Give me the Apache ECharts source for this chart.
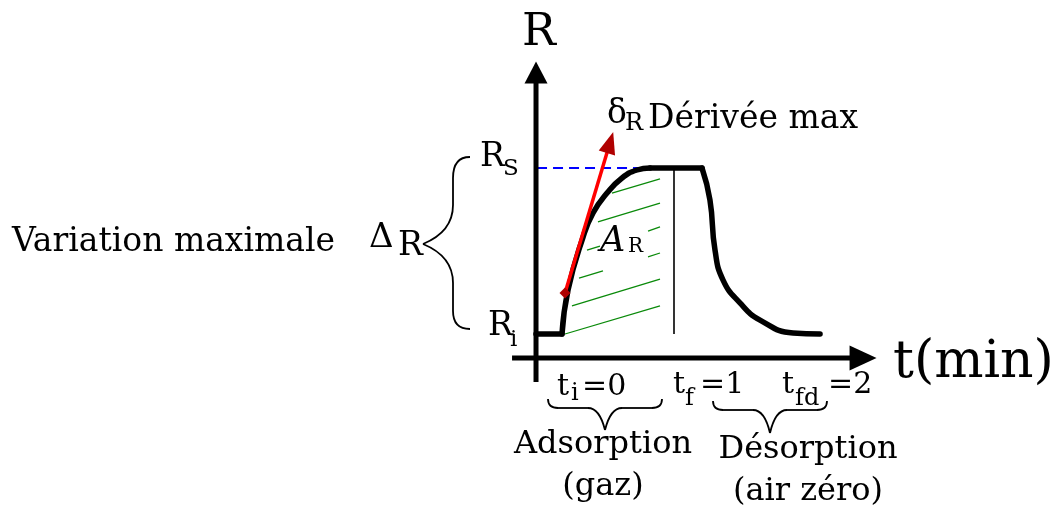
<!DOCTYPE html>
<html><head><meta charset="utf-8">
<script src="https://cdn.jsdelivr.net/npm/echarts@6/dist/echarts.min.js"></script>
<style>html,body{margin:0;padding:0;background:#fff}#c{width:1056px;height:510px}</style>
</head><body><div id="c"></div>
<script>
// ---------- data (t in minutes, R normalised: Ri = 0, Rs = 1) ----------
const curveT = [-0.232, 0, 0.054, 0.188, 0.277, 0.402, 0.536, 0.670, 0.786,
                1.25, 1.321, 1.366, 1.438, 1.589, 1.768, 2.063, 2.304];
const curveR = [0, 0, 0.265, 0.584, 0.729, 0.849, 0.940, 0.988, 1.0,
                1.0, 0.807, 0.506, 0.325, 0.187, 0.084, 0.006, 0];
// curve pieces: [first index, last index, smoothed?]
const curvePieces = [[0, 1, false], [1, 8, true], [8, 9, false], [9, 16, true]];

// hatching of the area A_R (segments)
const hatchT0 = [0.027, 0.089, 0.152, 0.768, 0.223, 0.768, 0.321, 0.446];
const hatchR0 = [0, 0.169, 0.337, 0.464, 0.506, 0.620, 0.675, 0.849];
const hatchT1 = [0.875, 0.875, 0.366, 0.875, 0.339, 0.875, 0.875, 0.875];
const hatchR1 = [0.169, 0.331, 0.380, 0.488, 0.530, 0.645, 0.789, 0.934];

// maximum derivative tangent
const derivT = [0.027, 0.429];
const derivR = [0.247, 1.154];

// levels / times
const Rs = 1, Ri = 0, tf = 1;
const rsLineT = [-0.223, 0.741];

// axes
const axisRT = -0.232, axisRRange = [-0.289, 1.575];
const axisTR = -0.145, axisTRange = [-0.446, 2.688];

// labels
const tickMain = ['t', 't', 't'];
const tickSub = ['i', 'f', 'fd'];
const tickVal = ['=0', '=1', '=2'];
const phaseNames = ['Adsorption', 'Désorption'];
const phaseSub = ['(gaz)', '(air zéro)'];

// ---------- view ----------
const X_MIN = -562 / 112, X_MAX = 494 / 112;
const Y_MIN = -176 / 166, Y_MAX = 334 / 166;
const FONT = '"DejaVu Serif", serif';

function pair(ts, rs) { return ts.map((t, i) => [t, rs[i]]); }
const curve = pair(curveT, curveR);

const series = [];
// axes
series.push({type: 'line', silent: true, z: 5, symbol: 'none',
  data: [[axisRT, axisRRange[0]], [axisRT, axisRRange[1]]],
  lineStyle: {color: '#000', width: 5}});
series.push({type: 'line', silent: true, z: 5, symbol: 'none',
  data: [[axisTRange[0], axisTR], [axisTRange[1], axisTR]],
  lineStyle: {color: '#000', width: 5}});
series.push({type: 'scatter', silent: true, z: 6, itemStyle: {color: '#000', opacity: 1},
  data: [
    {value: [axisRT, axisRRange[1]], symbol: 'triangle', symbolSize: [23, 22], symbolRotate: 0},
    {value: [axisTRange[1], axisTR], symbol: 'triangle', symbolSize: [25, 27], symbolRotate: -90}
  ]});
// hatching
hatchT0.forEach((t, i) => {
  series.push({type: 'line', silent: true, z: 2, symbol: 'none',
    data: [[t, hatchR0[i]], [hatchT1[i], hatchR1[i]]],
    lineStyle: {color: '#0a8a0a', width: 1.3}});
});
// t_f vertical line
series.push({type: 'line', silent: true, z: 3, symbol: 'none',
  data: [[tf, Ri], [tf, Rs]], lineStyle: {color: '#000', width: 1.6}});
// Rs dashed
series.push({type: 'line', silent: true, z: 3, symbol: 'none',
  data: [[rsLineT[0], Rs], [rsLineT[1], Rs]],
  lineStyle: {color: '#0000ff', width: 2, type: [10, 6]}});
// response curve
curvePieces.forEach(([a, b, sm]) => {
  series.push({type: 'line', silent: true, z: 4, symbol: 'none',
    smooth: sm ? 0.5 : false,
    data: curve.slice(a, b + 1),
    lineStyle: {color: '#000', width: 5.5, cap: 'round', join: 'round'}});
});
// derivative
series.push({type: 'line', silent: true, z: 7, symbol: 'none',
  data: pair(derivT, derivR), lineStyle: {color: '#ff0000', width: 3.5}});
series.push({id: 'redHead', type: 'scatter', silent: true, z: 8, itemStyle: {color: '#b00000', opacity: 1},
  data: [{value: [derivT[1], derivR[1]], symbol: 'triangle', symbolSize: [17, 22], symbolRotate: -16}]});
series.push({type: 'scatter', silent: true, z: 8, itemStyle: {color: '#b00000', opacity: 1},
  data: [{value: [derivT[0], derivR[0]], symbol: 'diamond', symbolSize: [11, 11]}]});

// ---------- text ----------
function T(x, yb, text, size, extra) {
  extra = extra || {};
  return {type: 'text', x: x, y: yb - 0.32 * size, z: 20, silent: true,
    style: {text: text, font: (extra.style || '') + ' ' + size + 'px ' + FONT,
      fill: '#000', textAlign: extra.align || 'left', align: extra.align || 'left',
      textVerticalAlign: 'middle', verticalAlign: 'middle'}};
}
const graphic = [];
graphic.push(T(522, 48, 'R', 45));
graphic.push(T(893, 380, 't(min)', 52));
graphic.push(T(12, 253, 'Variation maximale', 33));
graphic.push(T(369, 249, 'Δ', 34));
graphic.push(T(398, 257, 'R', 33));
graphic.push(T(480, 168, 'R', 33));
graphic.push(T(503, 176, 'S', 23));
graphic.push(T(488, 337, 'R', 33));
graphic.push(T(510, 347, 'i', 23));
graphic.push(T(607, 125, 'δ', 33));
graphic.push(T(625, 131, 'R', 24));
graphic.push(T(648, 130, 'Dérivée max', 33));
graphic.push(T(600, 253, 'A', 35, {style: 'italic'}));
graphic.push(T(628, 253, 'R', 20));
// tick labels
const tickX = [[557, 571, 582], [673, 685, 700], [782, 795, 828]];
const tickYb = [[397, 401], [395, 406], [395, 406]];
tickMain.forEach((m, i) => {
  graphic.push(T(tickX[i][0], tickYb[i][0], m, 30));
  graphic.push(T(tickX[i][1], tickYb[i][1], tickSub[i], 24));
  graphic.push(T(tickX[i][2], tickYb[i][0], tickVal[i], 30));
});
const phaseX = [603, 808];
const phaseYb = [[455, 497], [460, 502]];
phaseNames.forEach((p, i) => {
  graphic.push(T(phaseX[i], phaseYb[i][0], p, 32, {align: 'center'}));
  graphic.push(T(phaseX[i], phaseYb[i][1], phaseSub[i], 32, {align: 'center'}));
});
// braces (decorative strokes built from simple path strings)
const braceStyle = {stroke: '#000', lineWidth: 1.8, fill: null};
function braceElems(d) {
  const tok = d.match(/[MLC]|-?\d+(\.\d+)?/g);
  const out = [];
  let i = 0, cx = 0, cy = 0, cmd = 'M';
  while (i < tok.length) {
    if (/[MLC]/.test(tok[i])) { cmd = tok[i]; i++; }
    if (cmd === 'M') { cx = +tok[i]; cy = +tok[i + 1]; i += 2; }
    else if (cmd === 'L') {
      const x = +tok[i], y = +tok[i + 1]; i += 2;
      out.push({type: 'line', silent: true, z: 20, style: braceStyle, shape: {x1: cx, y1: cy, x2: x, y2: y}});
      cx = x; cy = y;
    } else {
      const v = tok.slice(i, i + 6).map(Number); i += 6;
      out.push({type: 'bezierCurve', silent: true, z: 20, style: braceStyle,
        shape: {x1: cx, y1: cy, cpx1: v[0], cpy1: v[1], cpx2: v[2], cpy2: v[3], x2: v[4], y2: v[5]}});
      cx = v[4]; cy = v[5];
    }
  }
  return out;
}
[
  'M470,157 C459,157 453,164 453,178 L453,205 C453,226 440,237 423,244 C440,251 453,262 453,283 L453,311 C453,323 459,329 470,329',
  'M548,399 C548,405 551,408 558,408 L588,408 C597,408 602,418 605,430 C608,418 613,408 622,408 L652,408 C659,408 662,405 662,399',
  'M713,401 C713,407 716,410 723,410 L753,410 C762,410 767,420 770,433 C773,420 778,410 787,410 L817,410 C824,410 827,407 827,401'
].forEach(d => braceElems(d).forEach(e => graphic.push(e)));

const chart = echarts.init(document.getElementById('c'), null, {renderer: 'canvas'});
chart.setOption({
  animation: false,
  backgroundColor: '#fff',
  grid: {left: 0, right: 0, top: 0, bottom: 0, containLabel: false},
  xAxis: {type: 'value', min: X_MIN, max: X_MAX, show: false},
  yAxis: {type: 'value', min: Y_MIN, max: Y_MAX, show: false},
  series: series,
  graphic: graphic
});
// orient the derivative arrowhead along the tangent
const p0 = chart.convertToPixel({gridIndex: 0}, [derivT[0], derivR[0]]);
const p1 = chart.convertToPixel({gridIndex: 0}, [derivT[1], derivR[1]]);
const ang = Math.atan2(p1[0] - p0[0], p0[1] - p1[1]) * 180 / Math.PI;
chart.setOption({series: [{id: 'redHead',
  data: [{value: [derivT[1], derivR[1]], symbol: 'triangle', symbolSize: [17, 22], symbolRotate: -ang}]}]});
</script></body></html>
